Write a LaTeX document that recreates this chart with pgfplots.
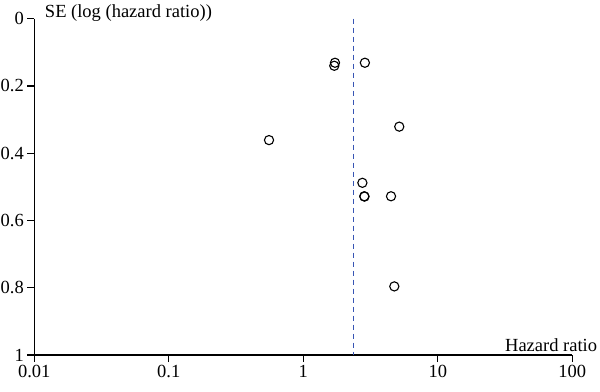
\documentclass[border=0pt]{standalone}
\usepackage{fontspec}
\setmainfont{Liberation Serif}
\usepackage{pgfplots}
\pgfplotsset{compat=1.18}
\usetikzlibrary{calc}
\definecolor{dashblue}{RGB}{55,85,180}
\begin{document}
\begin{tikzpicture}
\begin{axis}[
  scale only axis,
  width=538pt, height=336.3pt,
  xmode=log, log basis x=10,
  xmin=0.01, xmax=100,
  ymin=0, ymax=1,
  y dir=reverse,
  axis y line=left,
  axis x line=bottom,
  axis line style={-, line width=1.1pt, black},
  tick align=outside,
  major tick length=7pt,
  tick style={line width=1.1pt, black},
  xtick={0.01,0.1,1,10,100},
  xticklabels={0.01,0.1,1,10,100},
  ytick={0,0.2,0.4,0.6,0.8,1},
  yticklabels={0,0.2,0.4,0.6,0.8,1},
  minor tick num=0,
  /pgf/number format/assume math mode=true,
  tick label style={font=\fontsize{18.5}{20}\selectfont},
  clip=false,
]
\addplot[draw=dashblue, line width=1.2pt, dash pattern=on 5pt off 4pt] coordinates {(2.35,0) (2.35,1)};
\addplot[only marks, mark=o, mark size=4.6pt, mark options={line width=1.1pt, draw=black}] coordinates {
  (1.72,0.131) (1.70,0.140) (2.87,0.131) (0.556,0.361) (5.17,0.321)
  (2.75,0.488) (2.84,0.528) (2.85,0.529) (4.49,0.528) (4.75,0.796)
};
\node[anchor=base west, font=\fontsize{18.5}{20}\selectfont, inner sep=0pt] at (axis cs:0.01,0) [xshift=10.5pt, yshift=1pt] {SE (log (hazard ratio))};
\node[anchor=base east, font=\fontsize{18.5}{20}\selectfont, inner sep=0pt] at (axis cs:100,1) [xshift=25pt, yshift=4pt] {Hazard ratio};
\end{axis}
\pgfresetboundingbox
\path[use as bounding box] ($(current axis.south west)+(-34.3pt,-37pt)$) rectangle ($(current axis.north east)+(27.7pt,18.7pt)$);
\end{tikzpicture}
\end{document}
